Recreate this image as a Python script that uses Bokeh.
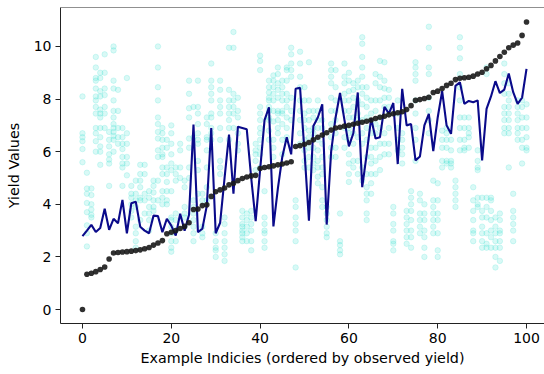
from bokeh.plotting import figure
from bokeh.models import Range1d, Span, FixedTicker
from bokeh.embed import file_html
from bokeh.resources import INLINE

# ---- data ----
observed = [0.00, 1.34, 1.38, 1.44, 1.52, 1.62, 1.92, 2.15, 2.17, 2.19,
            2.20, 2.22, 2.24, 2.27, 2.31, 2.36, 2.45, 2.53, 2.62, 2.88,
            2.94, 3.00, 3.08, 3.16, 3.30, 3.80, 3.82, 3.95, 3.98, 4.30,
            4.48, 4.55, 4.62, 4.74, 4.80, 4.90, 4.98, 5.04, 5.08, 5.10,
            5.36, 5.40, 5.43, 5.46, 5.50, 5.53, 5.57, 5.62, 6.20, 6.23,
            6.28, 6.35, 6.45, 6.55, 6.63, 6.72, 6.82, 6.90, 6.93, 6.97,
            7.00, 7.04, 7.08, 7.12, 7.16, 7.20, 7.26, 7.31, 7.35, 7.40,
            7.44, 7.48, 7.52, 7.60, 7.75, 7.95, 7.98, 8.02, 8.07, 8.25,
            8.30, 8.40, 8.52, 8.60, 8.74, 8.79, 8.81, 8.83, 8.87, 8.95,
            9.02, 9.15, 9.28, 9.45, 9.62, 9.78, 9.95, 10.05, 10.13, 10.42,
            10.93]

predicted_mean = [2.79, 3.00, 3.22, 2.95, 3.10, 3.83, 3.03, 3.45, 3.28, 4.17,
                  2.90, 4.04, 4.10, 3.15, 3.00, 2.90, 3.57, 3.55, 2.94, 3.45,
                  3.19, 2.81, 3.64, 3.00, 3.60, 7.03, 2.94, 3.07, 3.95, 6.90,
                  2.90, 3.30, 5.00, 6.65, 4.40, 6.95, 6.90, 6.85, 5.00, 3.36,
                  5.30, 7.20, 7.69, 3.16, 4.60, 5.80, 6.55, 5.90, 8.39, 8.43,
                  6.00, 3.38, 6.98, 7.30, 7.80, 3.23, 6.00, 7.30, 8.23, 7.20,
                  6.20, 6.70, 8.25, 4.65, 5.90, 7.27, 6.50, 6.55, 7.70, 7.45,
                  7.85, 5.53, 8.39, 7.00, 7.05, 5.67, 5.82, 7.00, 7.44, 6.02,
                  7.30, 8.30, 7.00, 6.68, 8.50, 8.64, 7.82, 7.93, 7.88, 7.95,
                  5.67, 7.63, 8.10, 8.68, 8.23, 8.36, 8.97, 8.26, 7.82, 8.05,
                  9.15]

samples = [
    [8.1, 6.7, 6.55, 6.4, 6.1, 5.6],
    [5.2, 4.6, 4.4, 4.05, 3.7, 3.2, 2.9, 2.4],
    [4.6, 4.35, 4.0, 3.8, 3.6, 3.5],
    [9.6, 9.2, 8.8, 8.7, 8.4, 8.1, 7.95, 7.7, 7.45, 6.9, 6.7, 6.4, 6.0],
    [9.0, 8.8, 8.3, 8.1, 7.6, 7.45, 7.3, 6.9, 6.55, 6.2, 6.0, 5.5],
    [9.7, 9.0, 8.4, 8.15, 7.7, 7.45, 6.9],
    [6.75, 6.45, 6.2, 5.9, 5.7, 5.55, 4.7],
    [10.0, 9.85, 8.7, 8.4, 7.95, 7.55, 7.3, 7.05, 6.9, 6.75, 6.6, 6.45, 6.0],
    [8.35, 7.55, 6.9, 6.55, 6.3],
    [6.9, 6.55, 6.3, 6.1, 5.8, 5.55, 5.4, 4.7],
    [8.8, 6.7, 6.3, 5.8, 5.55, 5.1],
    [4.7, 4.4, 4.25, 4.0, 3.75, 3.5],
    [4.9, 4.4, 4.15, 3.9, 3.15, 2.9, 2.6, 2.35],
    [5.5, 5.15, 4.9, 4.65, 4.25, 4.15, 3.4],
    [5.5, 5.15, 4.4, 4.15, 3.65],
    [4.5, 4.25, 3.9, 3.65, 3.4, 3.0],
    [4.9, 4.7, 4.45, 4.15, 3.9, 3.75],
    [10.0, 9.2, 8.45, 7.95, 7.3, 7.05, 6.75, 6.5, 6.05, 5.8, 4.9, 4.15],
    [6.9, 6.7, 6.45, 6.15, 5.9, 5.8, 5.4, 5.15, 4.5, 4.25, 4.0],
    [6.45, 6.15, 5.4, 5.15, 4.85, 4.5, 4.15, 4.0],
    [7.0, 6.7, 6.3, 5.9, 5.55, 5.3, 4.5, 3.5, 3.4, 3.15, 2.9, 2.6, 2.35, 2.2],
    [5.4, 5.15, 4.9, 3.65, 3.4, 3.0, 2.6],
    [6.3, 6.05, 5.4, 5.0],
    [4.9, 4.65, 3.9, 3.65, 3.5, 3.15],
    [8.7, 8.2, 7.65, 7.3, 6.5, 6.15, 5.4, 5.0],
    [7.7, 6.55, 4.15, 3.9, 3.65, 3.4, 3.15, 2.9, 2.6],
    [8.7, 7.7, 7.45, 7.05, 6.7, 6.45, 6.3, 5.65, 5.3, 4.4],
    [4.4, 4.15, 3.15, 2.9, 2.75],
    [7.3, 7.05, 6.55, 6.45, 6.05, 5.4, 4.65, 4.15],
    [9.35, 8.7, 8.45, 8.2, 7.95, 7.45, 7.3, 6.9, 6.7, 6.45],
    [2.9, 2.6, 2.35, 2.25, 2.0],
    [8.7, 8.35, 7.95, 7.7, 7.45, 6.9, 6.45, 5.65, 5.4, 5.15],
    [3.5, 3.25, 2.9, 2.6, 2.35, 2.1, 1.85],
    [9.95, 8.35, 7.95, 7.7, 7.45, 7.2, 6.9, 6.45],
    [10.55, 9.95, 8.2, 7.95, 7.7, 7.45, 6.9],
    [8.05, 7.55, 7.3, 6.7, 6.3, 6.05],
    [3.75, 3.5, 3.25, 3.15, 3.0, 2.9, 2.75, 2.6],
    [3.65, 3.4, 3.15, 2.9, 2.6],
    [3.75, 3.5, 3.25, 3.0, 2.6, 2.25],
    [6.3, 6.05, 5.9, 5.65, 5.3],
    [9.65, 9.45, 9.1, 7.7, 7.45, 7.2, 6.9, 6.7, 6.45, 6.15, 5.9, 5.4],
    [4.5, 3.5, 3.25, 3.0, 2.9, 2.6, 2.35],
    [8.7, 8.45, 8.25, 8.05, 7.95, 7.7, 7.55, 7.3, 7.2, 6.8, 6.45],
    [8.9, 8.7, 8.45, 8.2, 7.95, 7.55, 7.15, 6.45, 6.15, 5.8],
    [9.2, 8.95, 8.6, 8.35, 8.05, 7.55, 7.45, 7.2, 6.9, 6.7],
    [8.7, 8.45, 8.2, 7.95, 7.55, 7.45, 7.05, 6.45, 5.9],
    [9.2, 9.1, 8.7, 8.2, 7.95, 7.7, 7.3, 6.9, 6.55],
    [9.95, 9.7, 9.35, 9.1, 8.85, 8.05, 7.55, 7.2],
    [4.15, 3.9, 3.5, 3.25, 3.0, 2.6, 1.6],
    [9.8, 9.35, 8.85, 8.45, 7.95, 7.55, 7.2, 6.7, 6.3],
    [8.45, 7.95, 7.45, 7.2, 6.9, 6.45, 6.05, 5.65, 5.4],
    [9.4, 7.95, 7.55, 7.2, 6.8, 6.55, 6.15, 5.8, 5.4],
    [7.55, 7.3, 6.9, 6.7, 6.45, 6.15, 5.8, 5.55, 5.3],
    [7.95, 7.55, 7.2, 6.9, 6.45, 6.05, 5.65, 5.4, 5.05, 4.8],
    [7.2, 6.9, 6.3, 5.8, 5.4, 5.15, 4.65, 4.15, 3.9],
    [3.9, 3.65, 3.4, 3.15, 2.9, 2.75],
    [9.35, 9.1, 8.85, 8.6, 8.05, 7.55, 7.05, 6.55, 6.15, 5.8],
    [9.1, 8.45, 7.95, 7.55, 7.2, 6.7, 6.15, 5.8],
    [3.65, 2.6, 2.45, 2.25, 2.1],
    [9.35, 8.85, 8.6, 8.2, 7.95, 7.55, 6.9, 6.55, 6.15],
    [9.0, 8.7, 8.3, 7.95, 7.55, 7.3, 6.9, 6.7, 6.45, 5.9, 5.55, 5.15, 4.85],
    [8.6, 8.35, 8.05, 7.7, 7.3, 6.7, 6.3, 5.65, 5.4],
    [8.7, 8.45, 7.95, 7.45, 7.2, 6.55, 5.65, 5.15],
    [10.35, 10.1, 9.6, 9.2, 8.85, 8.45, 8.2, 7.8, 7.2, 6.7, 6.3, 5.4, 4.9],
    [8.45, 8.05, 7.7, 7.3, 6.9, 6.45, 5.8, 5.15, 4.65, 4.4, 4.15, 3.65, 3.4],
    [7.95, 7.45, 6.7, 6.15, 5.8, 5.55, 5.15, 4.8, 4.4],
    [8.95, 8.6, 7.95, 7.55, 7.05, 6.7, 6.15, 5.65, 5.15],
    [9.45, 8.85, 8.45, 7.95, 7.3, 6.9, 6.3, 5.8, 5.3],
    [9.4, 8.7, 8.4, 8.05, 7.7, 6.7, 6.3, 5.9],
    [8.35, 8.05, 7.7, 7.45, 6.9, 6.3, 5.9],
    [3.9, 3.65, 3.25, 3.0, 2.6, 2.5, 2.25],
    [7.95, 7.45, 6.9, 6.45, 6.05],
    [6.7, 6.45, 6.15, 5.9, 5.55],
    [3.75, 3.5, 3.25, 3.0, 2.75, 2.5],
    [4.5, 4.25, 4.0, 3.75, 3.4, 3.0, 2.75, 2.35],
    [9.4, 9.2, 8.95, 8.7, 7.95, 7.45, 6.9, 6.45, 5.65],
    [4.4, 4.15, 3.65, 3.4, 3.15, 2.9],
    [4.0, 3.65, 3.4, 3.0, 2.75, 2.35, 2.0],
    [10.75, 9.95, 9.2, 8.95, 8.05, 7.55, 7.2, 6.7],
    [4.9, 4.15, 3.9, 3.65, 3.4, 3.15, 2.9],
    [4.8, 4.15, 3.65, 3.4, 2.9, 2.25, 2.0],
    [6.8, 6.45, 6.15, 5.65, 5.4],
    [6.9, 6.7, 6.45, 6.15, 5.65, 5.55],
    [6.45, 6.05, 5.65, 5.55, 5.4],
    [4.9, 4.65, 4.4, 4.15, 3.9],
    [10.35, 9.95, 9.55, 8.95, 8.45, 7.95, 7.3, 6.9, 6.45, 6.05],
    [7.3, 6.9, 6.45, 6.15, 6.05],
    [7.3, 6.9, 6.7, 6.55, 6.15],
    [4.65, 4.15, 3.75, 3.4, 3.0, 2.9, 2.6],
    [6.05, 5.65, 5.4, 5.3, 4.25, 4.0, 3.9],
    [4.25, 3.75, 3.5, 3.15, 2.9, 2.6, 2.35],
    [9.2, 8.95, 4.25, 3.9, 3.5, 2.9, 2.5, 2.35],
    [4.25, 4.15, 3.75, 3.4, 3.0, 2.75, 2.35],
    [3.5, 3.15, 2.9, 2.6, 2.35, 2.0, 1.6],
    [3.65, 3.4, 3.0, 2.9, 2.6, 2.35, 1.85],
    [9.35, 8.95, 8.6, 8.2, 7.7, 7.45, 7.2, 6.9, 6.7],
    [8.6, 8.2, 7.95, 7.7, 7.45, 7.2, 6.9, 6.7, 5.4],
    [4.4, 3.75, 3.5, 3.25, 3.0, 2.6],
    [7.95, 7.7, 7.45, 7.2, 6.9, 6.7, 6.45],
    [7.95, 7.7, 7.3, 6.9, 6.45, 6.15, 5.55],
    [7.8, 7.3, 6.9, 6.55, 6.15, 6.05],
]

x_ticks = [0, 20, 40, 60, 80, 100]
y_ticks = [0, 2, 4, 6, 8, 10]
x_label = "Example Indicies (ordered by observed yield)"
y_label = "Yield Values"

# ---- build sources ----
idx = list(range(len(observed)))
sx, sy = [], []
for i, vals in enumerate(samples):
    for v in vals:
        sx.append(i)
        sy.append(v)

FONT = "DejaVu Sans"

p = figure(width=544, height=374, output_backend="svg", toolbar_location=None,
           x_range=Range1d(-4.95, 104.05), y_range=Range1d(-0.53, 11.48),
           min_border_left=60, min_border_right=0, min_border_top=7,
           min_border_bottom=51)
p.xgrid.visible = False
p.ygrid.visible = False
p.outline_line_color = None
p.background_fill_color = "white"
p.border_fill_color = "white"

p.scatter(sx, sy, size=5.5, fill_color="#40E0D0", line_color="#40E0D0",
          fill_alpha=0.2, line_alpha=0.2)
p.line(idx, predicted_mean, line_color="#0a0a8a", line_width=2.1)
p.scatter(idx, observed, size=5.6, fill_color="#1a1a1a", line_color=None,
          fill_alpha=0.9)

top = Span(location=11.48, dimension="width", line_color="#222222", line_width=1)
p.add_layout(top)

for ax, ticks, lab in ((p.xaxis[0], x_ticks, x_label), (p.yaxis[0], y_ticks, y_label)):
    ax.ticker = FixedTicker(ticks=ticks)
    ax.minor_tick_line_color = None
    ax.major_tick_in = 0
    ax.major_tick_out = 5
    ax.major_label_standoff = 4
    ax.axis_line_color = "#222222"
    ax.major_tick_line_color = "#222222"
    ax.major_label_text_font = FONT
    ax.major_label_text_font_size = "14px"
    ax.major_label_text_color = "black"
    ax.axis_label = lab
    ax.axis_label_text_font = FONT
    ax.axis_label_text_font_size = "14.3px"
    ax.axis_label_text_font_style = "normal"
    ax.axis_label_text_color = "black"

p.xaxis.axis_label_standoff = 4
p.yaxis.axis_label_standoff = 9

open("out.html", "w").write(file_html(p, INLINE))
